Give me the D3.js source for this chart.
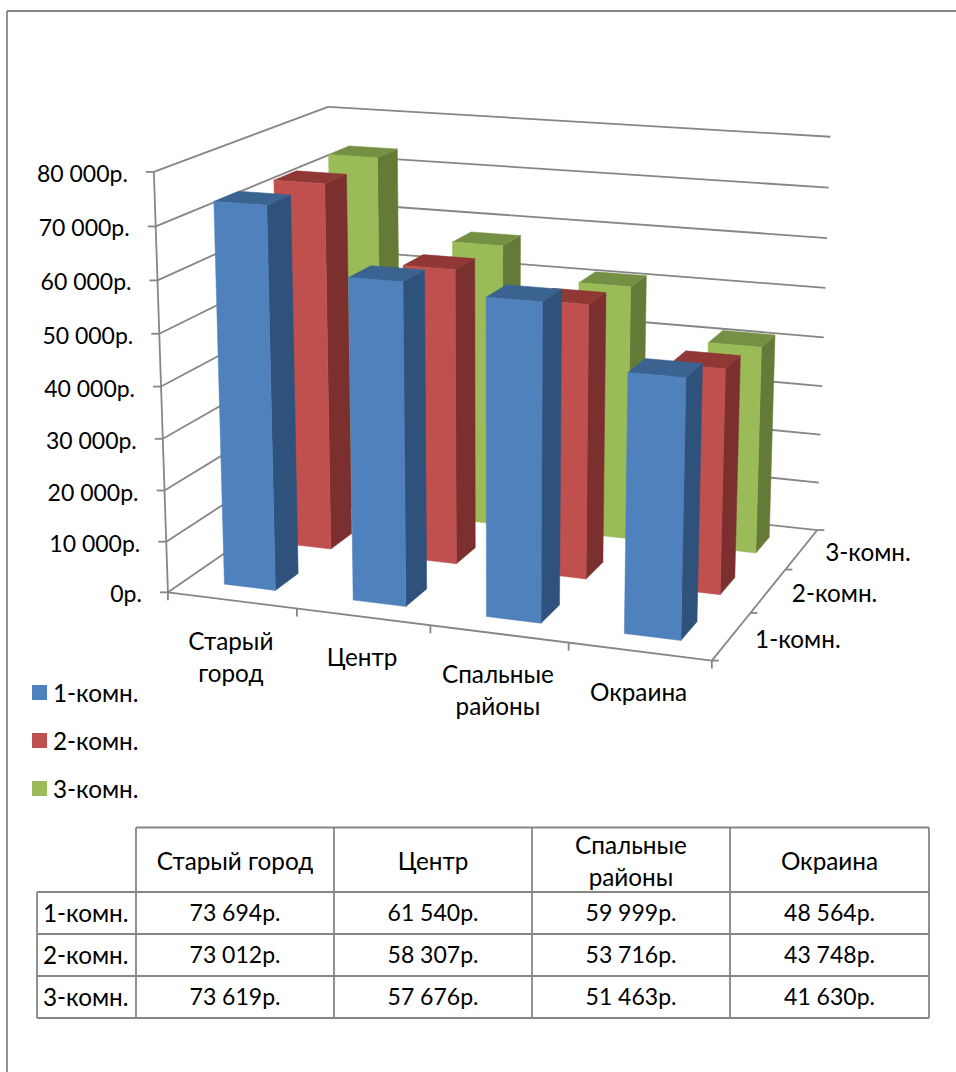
<!DOCTYPE html>
<html lang="ru">
<head>
<meta charset="utf-8">
<title>Цены на квартиры по районам</title>
<script src="https://cdn.jsdelivr.net/npm/d3@7"></script>
<style>
  html, body { margin: 0; padding: 0; background: #fff; }
  svg { display: block; }
  text { font-family: Lato, "Open Sans", sans-serif; font-size: 24.3px; fill: #000; }
  text.num { font-size: 23px; }
</style>
</head>
<body>
<svg id="chart" width="956" height="1072"></svg>
<script>
// Source data: prices per district and apartment size
const categories = ["Старый город", "Центр", "Спальные районы", "Окраина"];
const axisLabelLines = [["Старый", "город"], ["Центр"], ["Спальные", "районы"], ["Окраина"]];
const headerLines = [["Старый город"], ["Центр"], ["Спальные", "районы"], ["Окраина"]];
const seriesNames = ["1-комн.", "2-комн.", "3-комн."];
const oneRoom = [73694, 61540, 59999, 48564];
const twoRoom = [73012, 58307, 53716, 43748];
const threeRoom = [73619, 57676, 51463, 41630];
const seriesValues = [oneRoom, twoRoom, threeRoom];
const maxValue = 80000;

// Face colours per series: front, side, top
const faceColors = [
  { front: "#4F81BD", side: "#2F527C", top: "#3A6391" },
  { front: "#C0504D", side: "#7B2F2E", top: "#8F3836" },
  { front: "#9BBB59", side: "#667A38", top: "#759044" }
];
const lineColor = "#868686";

// Unit-cube scales: x across districts, z into the page, v upward
const xBand = d3.scaleBand().domain(categories).range([0, 1]).paddingInner(0.6).paddingOuter(0.3);
const zBand = d3.scaleBand().domain(seriesNames).range([0, 1]).paddingInner(0.6).paddingOuter(0.3);
const vScale = d3.scaleLinear().domain([0, maxValue]).range([0, 1]);

// Calibration of the oblique view: cube corners and their screen positions
const viewAnchors = [
  [0, 0, 0, 168.3, 592.7], [1, 0, 0, 711.7, 660.7], [1, 0, 1, 816.7, 530],
  [0, 1, 1, 328, 107], [0, 1, 0, 154, 172], [1, 1, 1, 830, 137],
  [0, 0.5, 0, 160.7, 386], [1, 0.5, 1, 825, 337]
];

// Least-squares fit of the 3x4 camera matrix (last entry fixed to 1)
function fitCamera(anchors) {
  const rows = [], rhs = [];
  anchors.forEach(([x, v, z, sx, sy]) => {
    const u = sx / 1000, w = sy / 1000;
    rows.push([x, v, z, 1, 0, 0, 0, 0, -u * x, -u * v, -u * z]); rhs.push(u);
    rows.push([0, 0, 0, 0, x, v, z, 1, -w * x, -w * v, -w * z]); rhs.push(w);
  });
  const n = 11;
  const m = d3.range(n).map(i => d3.range(n + 1).map(j =>
    d3.sum(rows, (r, k) => r[i] * (j < n ? r[j] : rhs[k]))));
  for (let i = 0; i < n; i++) {
    let p = i;
    for (let k = i + 1; k < n; k++) if (Math.abs(m[k][i]) > Math.abs(m[p][i])) p = k;
    [m[i], m[p]] = [m[p], m[i]];
    for (let k = 0; k < n; k++) {
      if (k === i) continue;
      const f = m[k][i] / m[i][i];
      for (let j = i; j <= n; j++) m[k][j] -= f * m[i][j];
    }
  }
  return m.map((r, i) => r[n] / r[i]);
}
const cam = fitCamera(viewAnchors);
function project(x, v, z) {
  const d = cam[8] * x + cam[9] * v + cam[10] * z + 1;
  return [
    1000 * (cam[0] * x + cam[1] * v + cam[2] * z + cam[3]) / d,
    1000 * (cam[4] * x + cam[5] * v + cam[6] * z + cam[7]) / d
  ];
}

const svg = d3.select("#chart");
const line = d3.line();
const grid = svg.append("g").attr("fill", "none").attr("stroke", lineColor).attr("stroke-width", 1.8);
const segment = (a, b) => grid.append("path").attr("d", line([a, b]));

// Outer frame, open on the right and at the bottom
segment([7, 1072], [7, 11]);
segment([7, 11], [956, 11]);

// Wall gridlines and value ticks
const valueTicks = vScale.ticks(8);
valueTicks.forEach(t => {
  const v = vScale(t);
  const front = project(0, v, 0), back = project(0, v, 1), right = project(1, v, 1);
  segment(front, back);
  segment(back, right);
  segment(front, [front[0] - 8, front[1]]);
});

// Floor edges and axis lines
const cornerFront = project(1, 0, 0), cornerBack = project(1, 0, 1);
segment(project(0, 0, 0), project(0, 1, 0));
segment(project(0, 0, 0), cornerFront);
segment(cornerFront, cornerBack);
d3.range(0, categories.length + 1).forEach(i => {
  const p = project(i / categories.length, 0, 0);
  segment(p, [p[0], p[1] + 8]);
});
d3.range(0, seriesNames.length + 1).forEach(i => {
  const p = project(1, 0, i / seriesNames.length);
  segment(p, [p[0] + 7, p[1]]);
});

// Value axis labels
const formatRub = d3.formatLocale({ decimal: ",", thousands: " ", grouping: [3], currency: ["", "р."] }).format("$,");
svg.append("g").selectAll("text").data(valueTicks).join("text")
  .attr("class", "num")
  .attr("text-anchor", "end")
  .attr("dominant-baseline", "central")
  .attr("x", d => project(0, vScale(d), 0)[0] - 26)
  .attr("y", d => project(0, vScale(d), 0)[1] + 1)
  .text(d => formatRub(d));

// District labels under the front edge
categories.forEach((c, i) => {
  const mid = project(xBand(c) + xBand.bandwidth() / 2, 0, 0);
  axisLabelLines[i].forEach((t, k) => {
    svg.append("text").attr("text-anchor", "middle").attr("dominant-baseline", "central")
      .attr("x", mid[0] - 1).attr("y", mid[1] + 40 + k * 32).text(t);
  });
});

// Apartment size labels beside the depth edge
seriesNames.forEach(s => {
  const mid = project(1, 0, zBand(s) + zBand.bandwidth() / 2);
  svg.append("text").attr("dominant-baseline", "central")
    .attr("x", mid[0] + 23.5).attr("y", mid[1] + 2).text(s);
});

// Bars, painted from the back row forward and left to right in each row
const bars = svg.append("g");
d3.range(seriesNames.length).reverse().forEach(si => {
  const z0 = zBand(seriesNames[si]), z1 = z0 + zBand.bandwidth();
  categories.forEach((c, ci) => {
    const x0 = xBand(c), x1 = x0 + xBand.bandwidth();
    const h = vScale(seriesValues[si][ci]);
    const colors = faceColors[si];
    const face = (pts, fill) => bars.append("path")
      .attr("d", line(pts.map(p => project(...p))) + "Z")
      .attr("fill", fill).attr("stroke", fill).attr("stroke-width", 0.5);
    face([[x1, 0, z0], [x1, 0, z1], [x1, h, z1], [x1, h, z0]], colors.side);
    face([[x0, h, z0], [x1, h, z0], [x1, h, z1], [x0, h, z1]], colors.top);
    face([[x0, 0, z0], [x1, 0, z0], [x1, h, z0], [x0, h, z0]], colors.front);
  });
});

// Legend
const legend = svg.append("g").selectAll("g").data(seriesNames).join("g")
  .attr("transform", (d, i) => `translate(32,${685 + i * 48})`);
legend.append("rect").attr("width", 15).attr("height", 15).attr("fill", (d, i) => faceColors[i].front);
legend.append("text").attr("x", 21).attr("y", 7).attr("dominant-baseline", "central").text(d => d);

// Data table under the chart
const colEdges = [37, 136, 334, 532, 730, 929];
const rowEdges = [827.5, 892, 934, 976, 1018];
const tableGrid = svg.append("g").attr("stroke", lineColor).attr("stroke-width", 1.8).attr("fill", "none");
const tableLine = (a, b) => tableGrid.append("path").attr("d", line([a, b]));
rowEdges.forEach((y, i) => tableLine([i === 0 ? colEdges[1] : colEdges[0], y], [colEdges[5], y]));
colEdges.forEach((x, i) => tableLine([x, i === 0 ? rowEdges[1] : rowEdges[0]], [x, rowEdges[4]]));

const cell = (x, y, t, anchor, cls) => svg.append("text").attr("x", x).attr("y", y)
  .attr("class", cls || null)
  .attr("text-anchor", anchor || "middle").attr("dominant-baseline", "central").text(t);
headerLines.forEach((lines, c) => {
  const cx = (colEdges[c + 1] + colEdges[c + 2]) / 2;
  lines.forEach((t, k) => cell(cx, 860 + (k - (lines.length - 1) / 2) * 32, t));
});
seriesNames.forEach((s, r) => {
  const cy = (rowEdges[r + 1] + rowEdges[r + 2]) / 2 - 1;
  cell(43, cy, s, "start");
  seriesValues[r].forEach((val, c) => cell((colEdges[c + 1] + colEdges[c + 2]) / 2, cy, formatRub(val), "middle", "num"));
});
</script>
</body>
</html>
